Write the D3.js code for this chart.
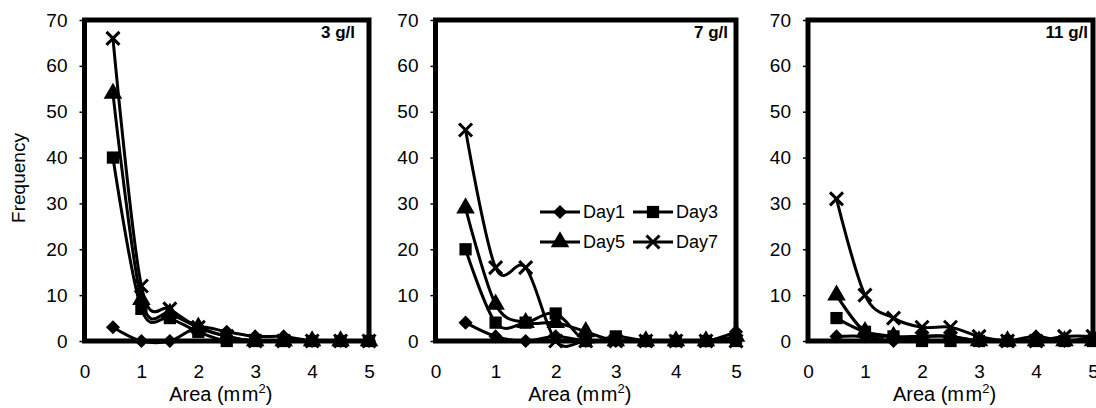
<!DOCTYPE html>
<html>
<head>
<meta charset="utf-8">
<script src="https://cdn.jsdelivr.net/npm/d3@7"></script>
<style>
  body { margin: 0; background: #fff; }
  svg { display: block; font-family: "Liberation Sans", Arial, sans-serif; }
</style>
</head>
<body>
<div id="chart"></div>
<script>
// x positions (mm2)
const areas = [0.5, 1, 1.5, 2, 2.5, 3, 3.5, 4, 4.5, 5];
const seriesNames = ["Day1", "Day3", "Day5", "Day7"];
const concLabels = ["3 g/l", "7 g/l", "11 g/l"];
const xTicks = [0, 1, 2, 3, 4, 5];
const yTicks = [0, 10, 20, 30, 40, 50, 60, 70];

// 3 g/l
const day1At3 = [3, 0, 0, 3, 2, 1, 1, 0, 0, 0];
const day3At3 = [40, 7, 5, 2, 0, 0, 0, 0, 0, 0];
const day5At3 = [54, 9, 6, 3, 1, 0, 0, 0, 0, 0];
const day7At3 = [66, 12, 7, 3, 1, 0, 0, 0, 0, 0];
// 7 g/l
const day1At7 = [4, 1, 0, 1, 0, 0, 0, 0, 0, 2];
const day3At7 = [20, 4, 4, 6, 0, 1, 0, 0, 0, 0];
const day5At7 = [29, 8, 4, 4, 2, 0, 0, 0, 0, 1];
const day7At7 = [46, 16, 16, 0, 0, 0, 0, 0, 0, 0];
// 11 g/l
const day1At11 = [1, 1, 0, 1, 1, 0, 0, 1, 0, 1];
const day3At11 = [5, 2, 1, 0, 0, 0, 0, 0, 0, 0];
const day5At11 = [10, 2, 1, 1, 1, 0, 0, 0, 0, 0];
const day7At11 = [31, 10, 5, 3, 3, 1, 0, 0, 1, 1];

const panelData = [
  [day1At3, day3At3, day5At3, day7At3],
  [day1At7, day3At7, day5At7, day7At7],
  [day1At11, day3At11, day5At11, day7At11]
];

const width = 1096, height = 408;
const plotTop = 20, plotBottom = 341;
const panels = [
  { left: 84.5, right: 369, labelPad: 14 },
  { left: 435.5, right: 736, labelPad: 8 },
  { left: 808, right: 1093, labelPad: 5 }
];

const svg = d3.select("#chart").append("svg")
  .attr("width", width)
  .attr("height", height);

function drawMarker(g, type, x, y) {
  if (type === "Day7") {
    const r = 6.5;
    g.append("path")
      .attr("d", `M${x - r},${y - r}L${x + r},${y + r}M${x - r},${y + r}L${x + r},${y - r}`)
      .attr("stroke", "#000")
      .attr("stroke-width", 3)
      .attr("fill", "none");
    return;
  }
  if (type === "Day1") {
    // rotated square
    g.append("path")
      .attr("d", d3.symbol().type(d3.symbolSquare).size(100)())
      .attr("transform", `translate(${x},${y}) rotate(45)`)
      .attr("fill", "#000");
    return;
  }
  const sym = type === "Day3" ? d3.symbolSquare : d3.symbolTriangle;
  g.append("path")
    .attr("d", d3.symbol().type(sym).size(150)())
    .attr("transform", `translate(${x},${y})`)
    .attr("fill", "#000");
}

panels.forEach((p, i) => {
  const x = d3.scaleLinear().domain([0, 5]).range([p.left, p.right]);
  const y = d3.scaleLinear().domain([0, 70]).range([plotBottom, plotTop]);
  const g = svg.append("g");

  // y axis
  const ya = g.append("g")
    .attr("transform", `translate(${p.left},0)`)
    .call(d3.axisLeft(y).tickValues(yTicks).tickSize(5).tickPadding(12));
  ya.select(".domain").remove();
  ya.selectAll("line").attr("stroke", "#000").attr("stroke-width", 1.5);
  ya.selectAll("text").attr("font-size", 19).attr("fill", "#000");

  // x axis
  const xa = g.append("g")
    .attr("transform", `translate(0,${plotBottom})`)
    .call(d3.axisBottom(x).tickValues(xTicks).tickFormat(d3.format("d")).tickSize(0).tickPadding(24));
  xa.select(".domain").remove();
  xa.selectAll("text").attr("font-size", 19).attr("fill", "#000");

  // lines
  const line = d3.line()
    .x((d, k) => x(areas[k]))
    .y(d => y(d))
    .curve(d3.curveCardinal.tension(0));

  panelData[i].forEach(vals => {
    g.append("path")
      .datum(vals)
      .attr("d", line)
      .attr("fill", "none")
      .attr("stroke", "#000")
      .attr("stroke-width", 3);
  });
  panelData[i].forEach((vals, si) => {
    vals.forEach((v, k) => drawMarker(g, seriesNames[si], x(areas[k]), y(v)));
  });

  // frame
  g.append("rect")
    .attr("x", p.left)
    .attr("y", plotTop)
    .attr("width", p.right - p.left)
    .attr("height", plotBottom - plotTop)
    .attr("fill", "none")
    .attr("stroke", "#000")
    .attr("stroke-width", 5);

  // concentration label
  g.append("text")
    .attr("x", p.right - p.labelPad)
    .attr("y", 38)
    .attr("text-anchor", "end")
    .attr("font-size", 17)
    .attr("font-weight", "bold")
    .text(concLabels[i]);

  // x title
  const t = g.append("text")
    .attr("x", (p.left + p.right) / 2 - 6)
    .attr("y", 401)
    .attr("text-anchor", "middle")
    .attr("font-size", 20);
  t.append("tspan").text("Area (m");
  t.append("tspan").attr("dx", 1.5).text("m");
  t.append("tspan").attr("dy", -8).attr("font-size", 13).text("2");
  t.append("tspan").attr("dy", 8).text(")");
});

// y title
svg.append("text")
  .attr("transform", "translate(25,178) rotate(-90)")
  .attr("text-anchor", "middle")
  .attr("font-size", 19)
  .text("Frequency");

// legend in the middle panel
const legend = svg.append("g").attr("transform", "translate(540,212)");
seriesNames.forEach((name, i) => {
  const col = i % 2, row = Math.floor(i / 2);
  const lx = col * 93, ly = row * 30;
  const lg = legend.append("g");
  lg.append("line")
    .attr("x1", lx).attr("x2", lx + 40)
    .attr("y1", ly).attr("y2", ly)
    .attr("stroke", "#000").attr("stroke-width", 3);
  drawMarker(lg, name, lx + 20, ly);
  lg.append("text")
    .attr("x", lx + 43)
    .attr("y", ly)
    .attr("dy", "0.36em")
    .attr("font-size", 18)
    .text(name);
});
</script>
</body>
</html>
